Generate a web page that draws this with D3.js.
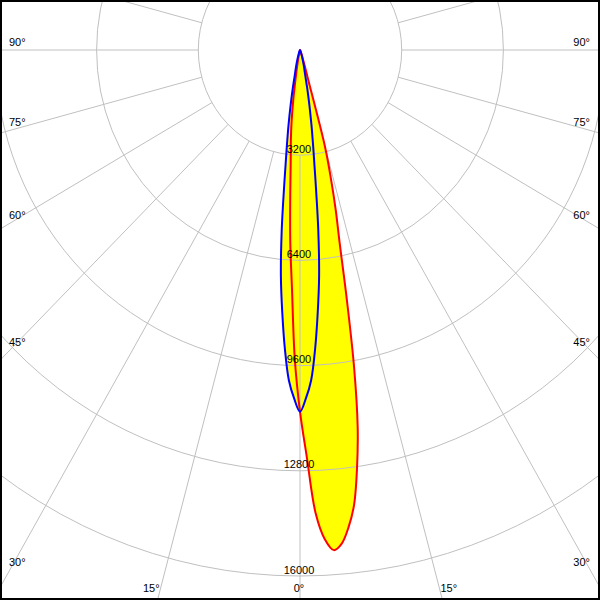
<!DOCTYPE html>
<html>
<head>
<meta charset="utf-8">
<script src="https://cdn.jsdelivr.net/npm/d3@7"></script>
<style>
  html, body { margin: 0; padding: 0; background: #fff; }
  svg { display: block; }
  text { font-family: "Liberation Sans", Arial, sans-serif; font-size: 11px; fill: #000; }
</style>
</head>
<body>
<svg id="chart" width="600" height="600"></svg>
<script>
// Intensity rings (cd) and angle labels (degrees)
const ringValues = [3200, 6400, 9600, 12800, 16000];
const angleLabels = [0, 15, 30, 45, 60, 75, 90];

// C0-C180 plane (red): gamma in degrees (negative = left half), intensity in cd
const gammaC0 = [-90, -30, -20, -15, -12, -10, -9, -8, -7, -6, -5, -4, -3, -2, -1,
                 0, 1, 2, 3, 4, 5, 6, 7, 8, 9, 10, 11, 12, 13, 14, 15, 16, 17, 18, 20, 25, 30, 90];
const intensityC0 = [0, 0, 20, 60, 250, 560, 900, 1500, 2150, 2750, 3350, 4400, 5850, 7250, 9400,
                     11000, 12400, 14100, 14900, 15250, 15070, 14600, 13950, 12880, 11600, 9800, 7700, 6000, 5000, 4000, 3000, 900, 550, 350, 150, 40, 0, 0];

// C90-C270 plane (blue)
const gammaC90 = [-90, -30, -20, -16, -14, -12, -11, -10, -9, -8, -7, -6, -5, -4, -3, -2, -1,
                  0, 1, 2, 3, 4, 5, 6, 7, 8, 9, 10, 11, 12, 14, 16, 20, 30, 90];
const intensityC90 = [0, 0, 100, 300, 500, 800, 1200, 1700, 2300, 3000, 4000, 5500, 6900, 8000, 9100, 10050, 10600,
                      11000, 10600, 10050, 9100, 8000, 6900, 5500, 4000, 3000, 2300, 1700, 1200, 800, 500, 300, 100, 0, 0];

const W = 600, H = 600;
const R_MAX = 16000;
const svg = d3.select("#chart");

// Polar scales (slightly different horizontal / vertical scale as in the reference)
const x = d3.scaleLinear().domain([-R_MAX, R_MAX]).range([300 - 508.5, 300 + 508.5]);
const y = d3.scaleLinear().domain([0, R_MAX]).range([50, 576]);
const rad = d => d * Math.PI / 180;
const px = (g, I) => x(I * Math.sin(rad(g)));
const py = (g, I) => y(I * Math.cos(rad(g)));

svg.append("rect").attr("width", W).attr("height", H).attr("fill", "#fff");

// Build point lists, dropping consecutive points that coincide (zero intensity at the centre)
function points(gs, is) {
  const out = [];
  gs.forEach((g, i) => {
    const p = [px(g, is[i]), py(g, is[i])];
    const last = out[out.length - 1];
    if (!last || Math.hypot(p[0] - last[0], p[1] - last[1]) > 0.01) out.push(p);
  });
  // drop final point if identical to the first (closed curve)
  const f = out[0], l = out[out.length - 1];
  if (out.length > 2 && Math.hypot(f[0] - l[0], f[1] - l[1]) < 0.01) out.pop();
  return out;
}
const ptsC0 = points(gammaC0, intensityC0);
const ptsC90 = points(gammaC90, intensityC90);
const line = d3.line().curve(d3.curveCatmullRomClosed.alpha(0.5));

// Yellow fill under both curves
svg.append("path").attr("d", line(ptsC0)).attr("fill", "#ffff00").attr("stroke", "none");
svg.append("path").attr("d", line(ptsC90)).attr("fill", "#ffff00").attr("stroke", "none");

// Grid: rings
const grid = svg.append("g").attr("fill", "none").attr("stroke", "#c0c0c0").attr("stroke-width", 1);
ringValues.forEach(r => {
  grid.append("ellipse")
    .attr("cx", x(0)).attr("cy", y(0))
    .attr("rx", x(r) - x(0)).attr("ry", y(r) - y(0));
});
// Grid: radial lines every 15 degrees, starting at the first ring
d3.range(0, 360, 15).forEach(a => {
  grid.append("line")
    .attr("x1", px(a, ringValues[0])).attr("y1", py(a, ringValues[0]))
    .attr("x2", px(a, 40000)).attr("y2", py(a, 40000));
});

// Curves
svg.append("path").attr("d", line(ptsC0)).attr("fill", "none")
  .attr("stroke", "#ff0000").attr("stroke-width", 2).attr("stroke-linejoin", "round");
svg.append("path").attr("d", line(ptsC90)).attr("fill", "none")
  .attr("stroke", "#0000ff").attr("stroke-width", 2).attr("stroke-linejoin", "round");

// Ring labels
ringValues.forEach(r => {
  svg.append("text").attr("x", x(0) - 1).attr("y", y(r) - 2.5)
    .attr("text-anchor", "middle").text(r);
});

// Angle labels
angleLabels.forEach(a => {
  const s = Math.sin(rad(a)), c = Math.cos(rad(a));
  if (a >= 30) {
    // line reaches the side edges: label just above where it is 10px from the edge
    const Ireach = Math.abs(x.invert(10)) / s;
    const yy = y(Ireach * c) - 4;
    svg.append("text").attr("x", 9).attr("y", yy).attr("text-anchor", "start").text(a + "°");
    svg.append("text").attr("x", 590).attr("y", yy).attr("text-anchor", "end").text(a + "°");
  } else {
    const yb = 592;
    const Ireach = y.invert(yb) / c;
    const dx = x(Ireach * s) - x(0);
    if (a === 0) {
      svg.append("text").attr("x", x(0) - 1).attr("y", yb).attr("text-anchor", "middle").text(a + "°");
    } else {
      svg.append("text").attr("x", x(0) - dx).attr("y", yb).attr("text-anchor", "end").text(a + "°");
      svg.append("text").attr("x", x(0) + dx).attr("y", yb).attr("text-anchor", "start").text(a + "°");
    }
  }
});

// Border
svg.append("rect").attr("x", 1).attr("y", 1).attr("width", W - 2).attr("height", H - 2)
  .attr("fill", "none").attr("stroke", "#000").attr("stroke-width", 2);
</script>
</body>
</html>
